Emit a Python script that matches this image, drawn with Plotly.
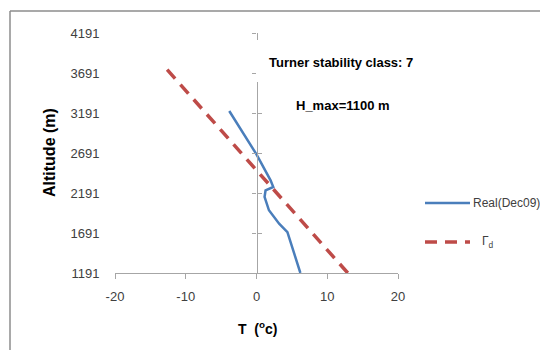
import plotly.graph_objects as go

# ---- data ----
real_T = [6.2, 4.75, 4.37, 3.2, 1.76, 1.14, 1.28, 2.37, 1.99, 0.0, -3.85]
real_alt = [1191, 1600, 1703, 1808, 1975, 2141, 2225, 2266, 2350, 2675, 3216]
dry_T = [12.9, -13.3]
dry_alt = [1191, 3800]
y_ticks = [1191, 1691, 2191, 2691, 3191, 3691, 4191]
x_ticks = [-20, -10, 0, 10, 20]
x_labels = ["-20", "-10", "0", "10", "20"]
series_names = ["Real(Dec09)", "Γ<sub>d</sub>"]

BLUE = "#4A7EBB"
RED = "#BE4B48"
AXIS = "#A6A6A6"
TXT = "#404040"
FONT = "Liberation Sans, Arial, sans-serif"

# page body has an 8px default margin: screen coords = figure coords + 8
OFF = 8
W, H = 548 - 2 * OFF, 358 - 2 * OFF
PL, PR, PT, PB = 115, 398, 33, 273  # plot area in screen px

fig = go.Figure()
fig.add_trace(go.Scatter(x=real_T, y=real_alt, mode="lines", name=series_names[0],
                         line=dict(color=BLUE, width=2.5), showlegend=False))
fig.add_trace(go.Scatter(x=dry_T, y=dry_alt, mode="lines", name=series_names[1],
                         line=dict(color=RED, width=3.5, dash="12px,8px"), showlegend=False))
# invisible helper traces to bind the crossing axis at T=0
for ax in ["y2", "y3"]:
    fig.add_trace(go.Scatter(x=[0] * len(y_ticks), y=y_ticks, yaxis=ax, mode="lines",
                             line=dict(width=0), opacity=0, showlegend=False, hoverinfo="skip"))

yr = [y_ticks[0], y_ticks[-1]]
fig.update_layout(
    width=W, height=H,
    margin=dict(l=PL - OFF, r=W - (PR - OFF), t=PT - OFF, b=H - (PB - OFF)),
    paper_bgcolor="white", plot_bgcolor="white",
    font=dict(family=FONT, size=13, color=TXT),
    showlegend=False,
    xaxis=dict(range=[-20, 20], tickvals=x_ticks, ticktext=x_labels, showgrid=False, zeroline=False,
               showline=True, linecolor=AXIS, linewidth=1.2,
               ticks="outside", ticklen=5, tickcolor=AXIS,
               ticklabelstandoff=6, tickfont=dict(size=13, color=TXT)),
    yaxis=dict(range=yr, tickvals=y_ticks, showgrid=False, zeroline=False,
               showline=False, ticks="outside", ticklen=12, tickcolor="rgba(0,0,0,0)",
               tickfont=dict(size=13, color=TXT)),
    yaxis2=dict(range=yr, tickvals=y_ticks, overlaying="y", anchor="free", position=0.5,
                side="left", showgrid=False, zeroline=False, showline=True,
                linecolor=AXIS, linewidth=1.2, ticks="outside", ticklen=4,
                tickcolor=AXIS, showticklabels=False),
    yaxis3=dict(range=yr, tickvals=y_ticks, overlaying="y", anchor="free", position=0.5,
                side="left", showgrid=False, zeroline=False, showline=False,
                ticks="inside", ticklen=4, tickcolor=AXIS, showticklabels=False),
)


def px(x):
    return (x - PL) / float(PR - PL)


def py(y):
    return (PB - y) / float(PB - PT)


# outer frame (top and left only visible)
fig.add_shape(type="line", xref="paper", yref="paper", x0=px(10), x1=px(570), y0=py(11), y1=py(11),
              line=dict(color="#8C8C8C", width=1.5))
fig.add_shape(type="line", xref="paper", yref="paper", x0=px(10), x1=px(10), y0=py(11), y1=py(380),
              line=dict(color="#8C8C8C", width=1.5))
# white text box covering the axis line
fig.add_shape(type="rect", xref="paper", yref="paper", x0=px(256.5), x1=px(430), y0=py(82), y1=py(40),
              fillcolor="white", line=dict(width=0), layer="above")

fig.add_annotation(text="<b>Turner stability class: 7</b>", xref="paper", yref="paper",
                   x=px(341), y=py(62), xanchor="center", yanchor="middle", showarrow=False,
                   font=dict(size=13, color="black"))
fig.add_annotation(text="<b>H_max=1100 m</b>", xref="paper", yref="paper",
                   x=px(343), y=py(105), xanchor="center", yanchor="middle", showarrow=False,
                   font=dict(size=13, color="black"))
fig.add_annotation(text="<b>Altitude (m)</b>", xref="paper", yref="paper",
                   x=px(49), y=py(153), xanchor="center", yanchor="middle", showarrow=False,
                   textangle=-90, font=dict(size=16, color="black"))
fig.add_annotation(text="<b>T  (<sup>o</sup>c)</b>", xref="paper", yref="paper",
                   x=px(257), y=py(328), xanchor="center", yanchor="middle", showarrow=False,
                   font=dict(size=14, color="black"))

# custom legend
leg_y = [203, 242]
leg_x = [471, 480]
leg_style = [dict(color=BLUE, width=2.5), dict(color=RED, width=3.5, dash="12px,8px")]
for name, yy, xx, st in zip(series_names, leg_y, leg_x, leg_style):
    fig.add_shape(type="line", xref="paper", yref="paper", x0=px(425), x1=px(470),
                  y0=py(yy), y1=py(yy), line=st)
    fig.add_annotation(text=name, xref="paper", yref="paper", x=px(xx), y=py(yy),
                       xanchor="left", yanchor="middle", showarrow=False,
                       font=dict(size=12, color=TXT))

fig.write_html("out.html")
